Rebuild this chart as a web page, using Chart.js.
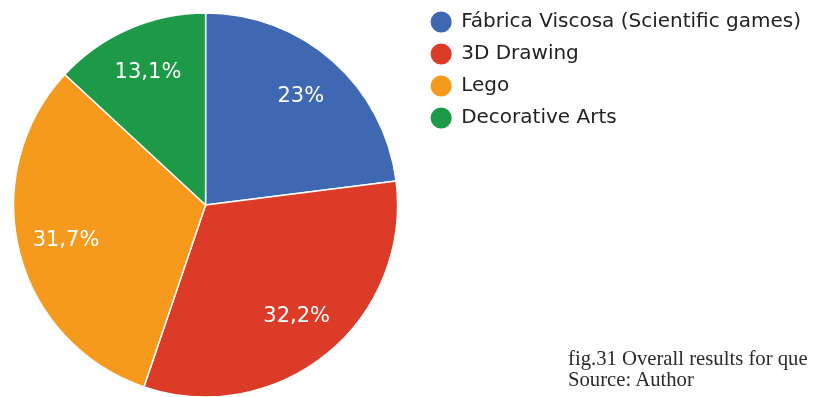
<!DOCTYPE html>
<html>
<head>
<meta charset="utf-8">
<script src="https://cdn.jsdelivr.net/npm/chart.js@4/dist/chart.umd.min.js"></script>
<style>
    html, body { margin: 0; padding: 0; background: #fff; }
    #wrap { position: relative; width: 815px; height: 397px; overflow: hidden; }
    /* canvas is a bit larger than the frame so the pie sits where the layout wants it */
    #pieChart { position: absolute; left: -8px; top: 0; }
    #caption {
        position: absolute; left: 568px; top: 348px;
        font-family: "Liberation Serif", serif; font-size: 20.7px; line-height: 21px;
        color: #2b2b2b; white-space: nowrap;
    }
</style>
</head>
<body>
<div id="wrap">
    <canvas id="pieChart" width="823" height="410"></canvas>
    <div id="caption">fig.31 Overall results for que<br>Source: Author</div>
</div>
<script>
const categories = ['Fábrica Viscosa (Scientific games)', '3D Drawing', 'Lego', 'Decorative Arts'];
const shares = [23, 32.2, 31.7, 13.1];
const sliceColors = ['#3e68b1', '#dc3c27', '#f69a1e', '#1d9a48'];

// percentage text inside each slice, comma as decimal separator
const sliceLabels = {
    id: 'sliceLabels',
    afterDatasetsDraw(chart) {
        const ctx = chart.ctx;
        const meta = chart.getDatasetMeta(0);
        ctx.save();
        ctx.font = '21px "DejaVu Sans"';
        ctx.fillStyle = '#fff';
        ctx.textAlign = 'center';
        ctx.textBaseline = 'middle';
        meta.data.forEach((arc, i) => {
            const p = arc.getProps(['x', 'y', 'startAngle', 'endAngle', 'outerRadius'], true);
            const mid = (p.startAngle + p.endAngle) / 2;
            const r = p.outerRadius * 0.75;
            const txt = String(shares[i]).replace('.', ',') + '%';
            ctx.fillText(txt, p.x + Math.cos(mid) * r, p.y + Math.sin(mid) * r);
        });
        ctx.restore();
    }
};

new Chart(document.getElementById('pieChart'), {
    type: 'pie',
    data: {
        labels: categories,
        datasets: [{
            data: shares,
            backgroundColor: sliceColors,
            borderColor: '#fff',
            borderWidth: 1.5
        }]
    },
    options: {
        responsive: false,
        animation: false,
        radius: 192,
        layout: { padding: { top: 0, left: 0, bottom: 0, right: 4 } },
        plugins: {
            tooltip: { enabled: false },
            legend: {
                position: 'right',
                align: 'start',
                labels: {
                    usePointStyle: true,
                    pointStyle: 'circle',
                    boxHeight: 16,
                    padding: 12,
                    color: '#222',
                    font: { family: '"DejaVu Sans"', size: 20 }
                }
            }
        }
    },
    plugins: [sliceLabels]
});
</script>
</body>
</html>
